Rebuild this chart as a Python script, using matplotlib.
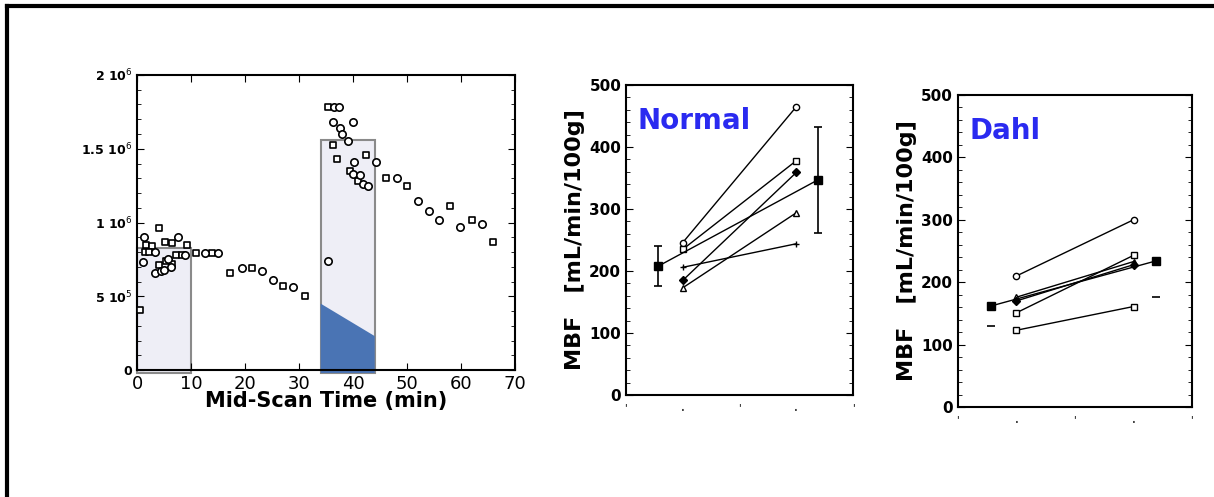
import matplotlib
matplotlib.use("Agg")
import matplotlib.pyplot as plt
from matplotlib.patches import Rectangle, Polygon
from matplotlib.ticker import MultipleLocator, FixedLocator
from matplotlib.lines import Line2D

# --- left panel: counts vs mid-scan time ---
sq_time = [0.5, 1.6, 2.7, 1.5, 2.3, 4.1, 5.2, 6.4, 9.2, 4.1, 5.3, 6.4, 7.2, 8.3, 11.0, 13.8,
           17.2, 21.2, 27.1, 31.1, 35.4, 36.3, 37.0, 39.4, 41.0, 42.3, 46.1, 50.0, 58.0, 62.0, 66.0]
sq_val = [0.41e6, 0.85e6, 0.84e6, 0.80e6, 0.80e6, 0.96e6, 0.87e6, 0.86e6, 0.85e6, 0.71e6,
          0.74e6, 0.72e6, 0.78e6, 0.78e6, 0.79e6, 0.79e6,
          0.66e6, 0.69e6, 0.57e6, 0.50e6, 1.785e6, 1.525e6, 1.43e6, 1.35e6, 1.28e6, 1.46e6,
          1.30e6, 1.25e6, 1.11e6, 1.02e6, 0.865e6]
ci_time = [1.2, 3.3, 1.1, 3.3, 4.5, 5.0, 5.8, 6.2, 7.6, 8.8, 12.6, 15.0, 19.4, 23.1, 25.1,
           28.9, 35.4, 36.5, 37.3, 36.3, 37.5, 39.9, 38.0, 39.0, 40.2, 40.0, 41.2, 41.8, 42.7,
           44.3, 48.1, 52.1, 54.0, 55.9, 59.8, 63.9]
ci_val = [0.90e6, 0.80e6, 0.73e6, 0.66e6, 0.67e6, 0.68e6, 0.75e6, 0.70e6, 0.90e6, 0.78e6,
          0.79e6, 0.79e6, 0.69e6, 0.67e6, 0.61e6,
          0.565e6, 0.74e6, 1.78e6, 1.78e6, 1.68e6, 1.64e6, 1.68e6, 1.60e6, 1.55e6, 1.41e6,
          1.33e6, 1.32e6, 1.26e6, 1.25e6,
          1.41e6, 1.305e6, 1.146e6, 1.08e6, 1.02e6, 0.97e6, 0.99e6]
box_start = [0, 34]
box_end = [10, 44]
box_top = [0.83e6, 1.56e6]
wedge_time = [34, 44]
wedge_val = [0.45e6, 0.23e6]
left_ticks = [0, 0.5e6, 1.0e6, 1.5e6, 2.0e6]
left_ticklabels = ["0", "5 10$^5$", "1 10$^6$", "1.5 10$^6$", "2 10$^6$"]

# --- MBF panels: pre (x=1) -> post (x=3), mean +/- sd at the sides ---
normal_pre = [246, 235, 185, 173, 206]
normal_post = [465, 378, 359, 294, 244]
normal_markers = ["o", "s", "D", "^", "+"]
normal_mean = [208, 347]
normal_sd = [32, 85]

dahl_pre = [210, 176, 170, 151, 123]
dahl_post = [300, 233, 228, 243, 161]
dahl_markers = ["o", "^", "D", "s", "s"]
dahl_mean = [162, 234]
dahl_sd = [33, 57]

fig = plt.figure(figsize=(12.14, 4.97), dpi=100)

# outer frame lines (top and left)
fig.add_artist(Line2D([0.0055, 1.0], [0.987, 0.987], color="black", lw=3, transform=fig.transFigure))
fig.add_artist(Line2D([0.0055, 0.0055], [0.0, 0.987], color="black", lw=3, transform=fig.transFigure))

ax1 = fig.add_axes([0.1129, 0.2555, 0.3114, 0.5936])
for s, e, t in zip(box_start, box_end, box_top):
    ax1.add_patch(Rectangle((s, -0.02e6), e - s, t + 0.02e6, facecolor="#eeeef6",
                            edgecolor="#8a8a8a", lw=1.5, clip_on=False, zorder=1))
ax1.add_patch(Polygon([(wedge_time[0], -0.02e6), (wedge_time[0], wedge_val[0]),
                       (wedge_time[1], wedge_val[1]), (wedge_time[1], -0.02e6)],
                      closed=True, facecolor="#4a74b4", edgecolor="none", clip_on=False, zorder=2))
ax1.plot([0, 10], [0.0, 0.0], color="#555555", lw=1.2, zorder=2)
ax1.scatter(sq_time, sq_val, marker="s", s=22, facecolor="white", edgecolor="black", lw=1.2, zorder=3)
ax1.scatter(ci_time, ci_val, marker="o", s=28, facecolor="white", edgecolor="black", lw=1.2, zorder=3)
ax1.set_xlim(0, 70)
ax1.set_ylim(0, 2.0e6)
ax1.set_xticks(range(0, 71, 10))
ax1.set_yticks(left_ticks)
ax1.set_yticklabels(left_ticklabels, fontweight="bold", fontsize=9)
ax1.yaxis.set_minor_locator(MultipleLocator(1e5))
ax1.tick_params(axis="x", labelsize=13, direction="in", top=True, length=5)
ax1.tick_params(axis="y", direction="in", right=True, length=5)
ax1.tick_params(axis="y", which="minor", direction="in", right=True, length=3)
ax1.set_xlabel("Mid-Scan Time (min)", fontsize=15, fontweight="bold", labelpad=-1)
for sp in ax1.spines.values():
    sp.set_linewidth(1.5)


def mbf_panel(rect, pre, post, markers, mean, sd, title, full_bars):
    ax = fig.add_axes(rect)
    for a, b, m in zip(pre, post, markers):
        ax.plot([1, 3], [a, b], color="black", lw=1.0, marker=m, ms=4.5,
                mfc="white" if m in ("o", "s", "^") else "black", mec="black", mew=1.0)
    ax.plot([0.57, 3.38], mean, color="black", lw=1.0, marker="s", ms=5.5, mfc="black")
    if full_bars:
        ax.errorbar([0.57, 3.38], mean, yerr=sd, fmt="none", ecolor="black",
                    elinewidth=1.2, capsize=3, capthick=1.2)
    else:
        ax.errorbar([0.57, 3.38], mean, yerr=[sd, [0, 0]], fmt="none", ecolor="black",
                    elinewidth=0, capsize=3, capthick=1.2)
    ax.set_xlim(0, 4)
    ax.set_ylim(0, 500)
    ax.xaxis.set_major_locator(FixedLocator([0, 1, 2, 3, 4]))
    ax.set_xticklabels(["'", ".", "'", ".", "'"], fontsize=7, fontweight="bold", color="#444444")
    ax.tick_params(axis="x", length=0, pad=6)
    ax.yaxis.set_major_locator(MultipleLocator(100))
    ax.yaxis.set_minor_locator(MultipleLocator(20))
    ax.tick_params(axis="y", direction="in", right=True, length=5, labelsize=11)
    ax.tick_params(axis="y", which="minor", direction="in", right=True, length=3)
    for lab in ax.get_yticklabels():
        lab.set_fontweight("bold")
    ax.set_ylabel("MBF   [mL/min/100g]", fontsize=16, fontweight="bold", labelpad=3)
    ax.text(0.05, 0.93, title, transform=ax.transAxes, color="#2a2af0",
            fontsize=20, fontweight="bold", va="top", ha="left")
    for sp in ax.spines.values():
        sp.set_linewidth(1.5)
    return ax


mbf_panel([0.5157, 0.2052, 0.187, 0.6237], normal_pre, normal_post, normal_markers,
          normal_mean, normal_sd, "Normal", True)
mbf_panel([0.7891, 0.1811, 0.1928, 0.6278], dahl_pre, dahl_post, dahl_markers,
          dahl_mean, dahl_sd, "Dahl", False)

fig.savefig("out.png", dpi=100)
